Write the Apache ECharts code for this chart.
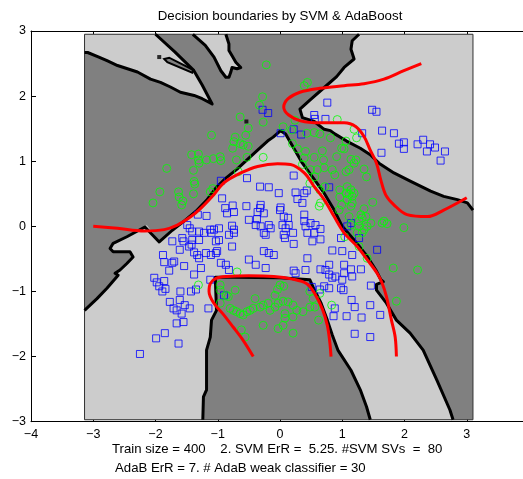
<!DOCTYPE html>
<html>
<head>
<meta charset="utf-8">
<title>Decision boundaries by SVM &amp; AdaBoost</title>
<script src="https://cdn.jsdelivr.net/npm/echarts@6/dist/echarts.min.js"></script>
<style>
html, body { margin: 0; padding: 0; background: #fff; }
#chart { width: 523px; height: 479px; }
</style>
</head>
<body>
<div id="chart"></div>
<script>
// area covered by the classifier map
const plotRect = [[-3.14, -2.97], [3.10, -2.97], [3.10, 2.95], [-3.14, 2.95]];

// AdaBoost decision edges (black)
const edgeT1 = [[-3.14,2.67],[-3.09,2.67],[-2.91,2.60],[-2.77,2.54],[-2.61,2.47],[-2.45,2.42],[-2.29,2.37],[-2.08,2.26],[-1.92,2.21],[-1.76,2.14],[-1.60,2.06],[-1.38,2.01],[-1.25,1.96],[-1.09,1.88],[-1.25,2.17],[-1.39,2.40],[-1.69,2.68],[-2.00,2.95]];
const islandT1 = [[-1.86,2.57],[-1.78,2.59],[-1.39,2.40],[-1.41,2.36],[-1.81,2.52]];
const edgeT2 = [[-1.40,2.95],[-1.20,2.78],[-1.06,2.60],[-0.95,2.39],[-0.87,2.29],[-0.82,2.29],[-0.79,2.37],[-0.77,2.44],[-0.69,2.42],[-0.63,2.44],[-0.71,2.52],[-0.77,2.62],[-0.82,2.70],[-0.82,2.80],[-0.87,2.95]];
const edgeC = [[1.27,2.95],[1.16,2.85],[1.14,2.72],[1.19,2.57],[1.03,2.44],[0.91,2.30],[0.72,2.14],[0.48,1.94],[0.32,1.80],[0.36,1.67],[0.55,1.61],[0.71,1.49],[0.81,1.47],[0.88,1.42],[1.07,1.31],[1.29,1.20],[1.45,1.10],[1.59,0.97],[1.83,0.82],[2.10,0.69],[2.42,0.54],[2.63,0.46],[2.85,0.41],[3.01,0.36],[3.10,0.25]];
const edgeOuterB = [[-3.14,-1.29],[-2.94,-1.11],[-2.78,-0.95],[-2.60,-0.75],[-2.65,-0.72],[-2.57,-0.67],[-2.46,-0.57],[-2.36,-0.47],[-2.41,-0.39],[-2.68,-0.39],[-2.73,-0.34],[-2.68,-0.26],[-2.46,-0.16],[-2.17,-0.01],[-2.14,0.02],[-1.94,-0.24],[-1.73,-0.06],[-1.54,0.08],[-1.33,0.25],[-1.18,0.40],[-1.02,0.60],[-0.87,0.74],[-0.69,0.88],[-0.53,1.02],[-0.36,1.17],[-0.20,1.31],[-0.11,1.37],[0.01,1.47],[0.09,1.42],[0.21,1.22],[0.36,0.97],[0.55,0.72],[0.71,0.51],[0.87,0.25],[1.00,0.00],[1.19,-0.21],[1.40,-0.46],[1.54,-0.67],[1.62,-0.82],[1.66,-0.85],[1.55,-0.89],[1.55,-0.98],[1.71,-1.18],[1.87,-1.44],[2.09,-1.64],[2.30,-1.90],[2.52,-2.36],[2.73,-2.82],[2.78,-2.97]];
const edgeInnerB = [[1.45,-2.97],[1.39,-2.77],[1.29,-2.51],[1.14,-2.21],[0.93,-1.90],[0.84,-1.67],[0.76,-1.44],[0.66,-1.18],[0.53,-0.93],[0.48,-0.82],[0.00,-0.79],[-0.74,-0.78],[-1.04,-0.78],[-1.02,-1.29],[-1.10,-1.44],[-1.12,-1.70],[-1.18,-1.90],[-1.18,-2.51],[-1.23,-2.62],[-1.24,-2.97]];
const edgeDots = [[-1.94,2.60],[-0.54,1.61]];

// SVM decision curves (red)
const svmLeft = [[-3.00,0.00],[-2.61,-0.03],[-2.18,-0.07],[-1.86,-0.05],[-1.65,0.02],[-1.43,0.15],[-1.27,0.28],[-1.06,0.49],[-0.90,0.67],[-0.63,0.82],[-0.36,0.92],[-0.04,0.96],[0.17,0.95],[0.39,0.82],[0.55,0.61],[0.71,0.41],[0.87,0.15],[1.03,-0.10],[1.24,-0.31],[1.40,-0.51],[1.56,-0.72],[1.64,-0.87],[1.71,-1.08],[1.79,-1.44],[1.85,-1.70],[1.87,-2.00]];
const svmBottom = [[-0.43,-2.00],[-0.60,-1.74],[-0.75,-1.55],[-0.92,-1.34],[-1.07,-1.17],[-1.14,-1.00],[-1.12,-0.88],[-1.03,-0.80],[-0.85,-0.77],[-0.50,-0.76],[-0.10,-0.77],[0.20,-0.81],[0.43,-0.88],[0.55,-1.02],[0.68,-1.27],[0.76,-1.52],[0.80,-1.78],[0.82,-2.00]];
const svmTop = [[2.27,2.50],[1.99,2.39],[1.67,2.26],[1.35,2.19],[1.03,2.16],[0.64,2.12],[0.32,2.06],[0.13,1.96],[0.06,1.83],[0.14,1.71],[0.33,1.62],[0.64,1.59],[1.03,1.59],[1.22,1.53],[1.35,1.38],[1.45,1.17],[1.55,0.97],[1.62,0.71],[1.70,0.48],[1.83,0.33],[2.04,0.18],[2.37,0.15],[2.63,0.25],[3.00,0.44]];

// training points
const classGreen = [[-0.22,2.48],[-0.28,1.99],[-0.33,1.86],[-0.27,1.60],[-0.64,1.68],[-0.51,1.51],[-0.55,1.40],[-1.10,1.40],[-0.72,1.37],[-0.74,1.30],[-0.64,1.27],[-0.59,1.25],[-0.51,1.23],[-0.76,1.20],[-0.27,1.06],[-0.53,1.06],[-0.70,1.02],[-1.42,1.10],[-1.31,1.11],[-1.31,1.02],[-1.18,1.02],[-1.07,1.04],[-0.96,1.07],[-0.95,1.01],[-1.82,0.89],[-1.39,0.86],[-0.67,0.84],[-1.38,0.69],[-1.37,0.65],[-1.93,0.53],[-1.63,0.53],[-1.62,0.45],[-1.56,0.39],[-1.58,0.33],[-1.39,0.50],[-2.04,0.36],[-1.12,0.53],[-1.08,0.58],[-1.30,0.97],
  [0.44,2.21],[0.39,2.16],[0.05,1.53],[0.24,1.63],[0.92,1.64],[0.43,1.43],[0.55,1.44],[0.64,1.42],[0.81,1.36],[0.20,1.27],[0.28,1.19],[0.41,1.15],[0.39,1.05],[0.55,1.06],[0.68,1.16],[0.19,1.48],[0.49,0.87],[0.60,0.87],[0.71,0.90],[0.84,0.87],[0.36,0.95],[0.91,1.07],[0.99,1.20],[0.70,1.02],[0.56,0.76],[0.88,0.79],[0.48,0.66],[0.72,0.61],[0.64,0.56],[0.96,0.56],[0.96,0.45],[0.99,0.33],[0.65,0.36],[0.95,0.25],[0.63,0.31],[1.19,1.49],[1.23,1.36],[1.06,1.31],[1.03,1.19],[1.14,1.03],[1.22,1.02],
  [1.35,0.88],[1.39,0.76],[1.19,0.97],[1.06,0.84],[1.11,0.87],[1.08,0.61],[1.14,0.56],[1.06,0.51],[1.11,0.49],[1.19,0.51],[1.16,0.46],[1.08,0.41],[1.16,0.36],[1.14,0.31],[1.49,0.37],[1.35,0.27],[1.30,0.18],[1.38,0.15],[1.32,0.13],[1.27,0.08],[1.46,0.05],[1.40,0.00],[1.35,-0.05],[1.27,0.00],[1.24,-0.10],[1.32,-0.10],[1.11,0.15],[1.14,0.02],[1.67,0.08],[1.72,0.04],[1.64,0.05],[1.99,-0.02],[1.27,-0.31],[1.40,-0.49],[1.82,-0.64],[2.21,-0.67],[1.04,-0.16],[1.87,-1.15],[0.83,-1.21],
  [-1.31,-0.90],[-0.96,-0.90],[-0.96,-0.98],[-0.86,-1.06],[-0.83,-1.08],[-0.72,-0.98],[-0.69,-0.70],[-0.96,-1.18],[-0.80,-1.26],[-0.75,-1.29],[-0.70,-1.31],[-0.64,-1.34],[-0.59,-1.36],[-0.53,-1.31],[-0.48,-1.29],[-0.43,-1.26],[-0.40,-1.11],[-0.32,-1.24],[-0.27,-1.21],[-0.19,-1.18],[-0.16,-1.29],[-0.08,-1.24],[-0.03,-1.18],[-0.62,-1.59],[-0.56,-1.70],[-0.27,-1.52],[-0.03,-1.57],[0.00,-0.90],[-0.08,-1.06],[0.05,-1.15],[0.13,-1.16],[0.21,-1.21],[0.27,-1.29],[0.08,-1.34],[0.21,-1.39],[0.37,-1.31],[0.48,-1.24],[0.56,-1.24],[0.53,-1.11],[0.48,-1.00],[0.62,-1.44],[0.05,-1.52],[0.21,-1.64],[-0.04,-0.97],[0.06,-0.92],[0.64,-1.03],[0.08,-1.41]];

const classBlue = [[-0.28,1.79],[-0.19,1.74],[0.01,1.43],[0.22,1.49],[0.34,1.41],[0.55,1.71],[0.56,1.65],[0.73,1.65],[0.76,1.90],
  [1.48,1.79],[1.55,1.76],[1.64,1.47],[1.83,1.43],[1.32,1.43],[1.91,1.27],[1.99,1.29],[1.99,1.19],[2.21,1.26],[2.30,1.33],[2.41,1.26],[2.49,1.21],[2.36,1.15],[2.65,1.15],[2.58,1.01],[1.63,1.13],
  [-0.95,0.70],[-0.53,0.74],[0.22,0.78],[0.79,0.60],[-0.32,0.61],[-0.18,0.60],[-0.02,0.51],[0.25,0.52],[0.39,0.51],[0.43,0.55],[-0.93,0.43],[0.36,0.36],[-0.54,0.31],[0.28,0.42],[-0.31,0.33],[-0.32,0.28],[0.01,0.29],[0.00,0.25],[-0.88,0.28],[-0.76,0.32],[-0.85,0.20],[-0.74,0.22],[-0.36,0.22],[-0.26,0.20],[0.39,0.18],[-0.50,0.10],[-0.37,0.11],[0.06,0.15],[0.13,0.13],[-0.98,-0.03],[-0.77,0.01],[-0.74,-0.05],[-0.39,0.02],[-0.31,0.00],[-0.18,0.02],[-0.15,-0.03],[0.04,0.02],[0.14,0.02],[0.09,-0.03],[0.39,0.08],[0.49,0.05],[0.57,0.02],[0.41,0.00],[0.65,-0.04],[-1.06,-0.05],[-0.98,-0.21],[-0.82,-0.13],[-0.74,-0.10],[-0.26,-0.10],[-0.23,-0.13],[0.06,-0.13],[0.08,-0.18],[0.21,-0.10],[0.44,-0.10],[0.55,-0.10],[0.65,-0.20],[-1.03,-0.23],[-0.77,-0.31],[0.22,-0.27],[0.52,-0.23],[0.84,-0.37],[-1.01,-0.38],[-1.03,-0.41],[-0.26,-0.38],[-0.18,-0.41],[-0.10,-0.44],[0.44,-0.49],[-0.95,-0.56],[-0.87,-0.59],[-0.82,-0.67],[-0.50,-0.51],[-0.39,-0.59],[-0.23,-0.64],[0.22,-0.68],[0.25,-0.72],[0.41,-0.67],[0.65,-0.66],[0.73,-0.67],[0.79,-0.59],[0.79,-0.74],[0.84,-0.79],[0.89,-0.77],[1.03,-0.72],[0.98,-0.18],[0.71,-0.92],[0.79,-0.95],[0.98,-0.95],[1.00,-0.82],[1.00,-0.38],
  [-1.32,0.18],[-1.18,0.16],[-1.49,0.02],[-1.45,-0.03],[-1.41,-0.08],[-1.30,-0.08],[-1.22,-0.10],[-1.12,-0.05],[-1.10,-0.10],[-1.73,-0.23],[-1.57,-0.18],[-1.55,-0.23],[-1.41,-0.21],[-1.46,-0.31],[-1.42,-0.28],[-1.30,-0.21],[-1.61,-0.36],[-1.88,-0.44],[-1.86,-0.55],[-1.70,-0.54],[-1.73,-0.56],[-1.54,-0.61],[-1.38,-0.40],[-1.33,-0.44],[-1.30,-0.49],[-1.19,-0.41],[-1.11,-0.44],[-1.78,-0.68],[-1.27,-0.64],[-1.38,-0.74],[-2.02,-0.79],[-1.98,-0.86],[-1.86,-0.84],[-1.94,-0.92],[-1.84,-0.96],[-1.89,-1.00],[-1.60,-1.00],[-1.35,-0.97],[-1.43,-1.00],
  [-1.77,-1.16],[-1.71,-1.26],[-1.66,-1.29],[-1.61,-1.13],[-1.53,-1.21],[-1.45,-1.26],[-1.58,-1.34],[-1.55,-1.47],[-1.66,-1.49],[-1.85,-1.64],[-1.99,-1.72],[-1.63,-1.80],[-2.25,-1.96],[-1.15,-1.26],[-1.12,-0.82],[-0.90,-1.06],
  [1.14,0.05],[1.08,0.00],[1.27,-0.18],[1.56,-0.36],[1.16,-0.44],[1.03,-0.59],[1.14,-0.66],[1.30,-0.66],[1.16,-0.77],[1.46,-0.91],
  [0.88,-1.26],[1.07,-1.38],[1.31,-1.40],[1.45,-1.21],[1.61,-1.36],[1.20,-1.24],[1.15,-1.13],[1.02,-0.98],[1.20,-1.65],[1.45,-1.70],[0.86,-1.38],[0.51,-0.93],[0.64,-0.97]];

const titleText = 'Decision boundaries by SVM & AdaBoost';
const xLabelLines = ['Train size = 400    2. SVM ErR =  5.25. #SVM SVs  =  80',
                     'AdaB ErR = 7. # AdaB weak classifier = 30'];

const fontFamily = '"Liberation Sans", Arial, Helvetica, sans-serif';
const LIGHT = '#cccccc';
const DARK = '#808080';

// light regions = edge path closed along the frame
const lightT1 = [[-3.14, 2.95]].concat(edgeT1);
const lightT2 = edgeT2;
const lightC = edgeC.concat([[3.10, 2.95]]);
const lightB = edgeOuterB.concat(edgeInnerB, [[-3.14, -2.97]]);

var chart = echarts.init(document.getElementById('chart'), null, { renderer: 'canvas' });

function polygonSeries(points, fill, stroke, z) {
    return {
        type: 'custom',
        z: z,
        silent: true,
        animation: false,
        data: [points[0]],
        renderItem: function (params, api) {
            return {
                type: 'polygon',
                shape: { points: points.map(function (p) { return api.coord(p); }) },
                style: { fill: fill, stroke: stroke || null, lineWidth: stroke ? 2 : 0 }
            };
        }
    };
}

function lineSeries(points, color, width, z, smooth) {
    return {
        type: 'line',
        data: points,
        symbol: 'none',
        smooth: smooth || false,
        z: z,
        silent: true,
        animation: false,
        lineStyle: { color: color, width: width, join: 'round' }
    };
}

var minusFmt = function (v) { return String(v).replace('-', '\u2212'); };

var axisCommon = {
    type: 'value',
    splitLine: { show: false },
    axisLine: { show: true, onZero: false, lineStyle: { color: '#000', width: 1 } },
    axisTick: { show: true, inside: true, length: 5, lineStyle: { color: '#000', width: 1 } }
};

option = {
    animation: false,
    backgroundColor: '#fff',
    textStyle: { fontFamily: fontFamily },
    grid: { left: 31, top: 31, width: 498, height: 390.7, outerBoundsMode: 'none', containLabel: false },
    xAxis: [
        Object.assign({}, axisCommon, {
            min: -4, max: 4, interval: 1, position: 'bottom',
            axisLabel: { show: true, color: '#000', fontSize: 12.5, fontFamily: fontFamily, margin: 6,
                         showMinLabel: true, showMaxLabel: true, formatter: minusFmt }
        }),
        Object.assign({}, axisCommon, {
            min: -4, max: 4, interval: 1, position: 'top',
            axisLabel: { show: false }
        })
    ],
    yAxis: [
        Object.assign({}, axisCommon, {
            min: -3, max: 3, interval: 1, position: 'left',
            axisLabel: { show: true, color: '#000', fontSize: 12.5, fontFamily: fontFamily, margin: 5,
                         showMinLabel: true, showMaxLabel: true, formatter: minusFmt }
        }),
        Object.assign({}, axisCommon, {
            min: -3, max: 3, interval: 1, position: 'right',
            axisLabel: { show: false }
        })
    ],
    graphic: [
        { type: 'text', x: 280, y: 16, silent: true,
          style: { text: titleText, font: '13.3px ' + fontFamily, fill: '#000', textAlign: 'center', textVerticalAlign: 'middle' } },
        { type: 'text', x: 112, y: 449, silent: true,
          style: { text: xLabelLines[0], font: '13.2px ' + fontFamily, fill: '#000', textAlign: 'left', textVerticalAlign: 'middle' } },
        { type: 'text', x: 115, y: 468, silent: true,
          style: { text: xLabelLines[1], font: '13.2px ' + fontFamily, fill: '#000', textAlign: 'left', textVerticalAlign: 'middle' } }
    ],
    series: [
        polygonSeries(plotRect, DARK, null, 1),
        polygonSeries(lightT1, LIGHT, null, 2),
        polygonSeries(lightT2, LIGHT, null, 2),
        polygonSeries(lightC, LIGHT, null, 2),
        polygonSeries(lightB, LIGHT, null, 2),
        polygonSeries(islandT1, DARK, '#000', 3),
        lineSeries(plotRect.concat([plotRect[0]]), '#333', 1, 3),
        lineSeries(edgeT1, '#000', 3, 4),
        lineSeries(edgeT2, '#000', 3, 4),
        lineSeries(edgeC, '#000', 3, 4),
        lineSeries(edgeOuterB, '#000', 3, 4),
        lineSeries(edgeInnerB, '#000', 3, 4),
        {
            type: 'scatter', data: edgeDots, symbol: 'rect', symbolSize: 4, z: 4, silent: true,
            itemStyle: { color: '#000' }
        },
        {
            type: 'scatter', data: classBlue, symbol: 'rect', symbolSize: 7, z: 5, silent: true,
            itemStyle: { color: 'rgba(0,0,0,0)', borderColor: '#0000ff', borderWidth: 1 }
        },
        {
            type: 'scatter', data: classGreen, symbol: 'circle', symbolSize: 8, z: 5, silent: true,
            itemStyle: { color: 'rgba(0,0,0,0)', borderColor: '#00ff00', borderWidth: 1 }
        },
        lineSeries(svmLeft, '#ff0000', 3, 6, 0.35),
        lineSeries(svmBottom, '#ff0000', 3, 6, 0.35),
        lineSeries(svmTop, '#ff0000', 3, 6, 0.35)
    ]
};

chart.setOption(option);
</script>
</body>
</html>
